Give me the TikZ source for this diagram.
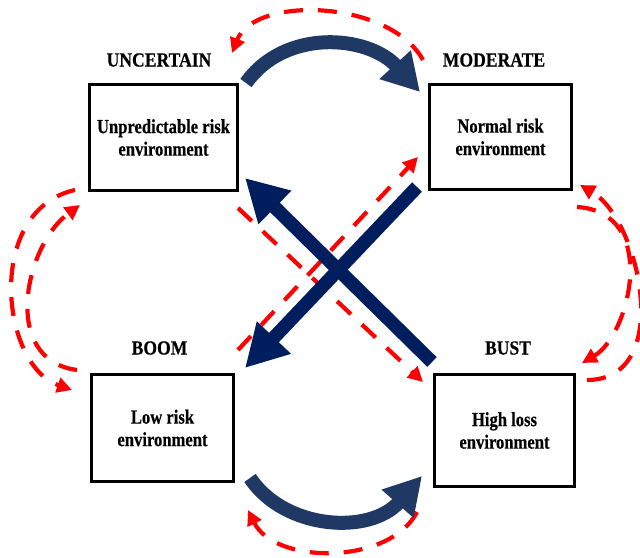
\documentclass[tikz,border=0pt]{standalone}
\usepackage{fontspec}
\newfontfamily\lblfont{Liberation Serif}[FakeStretch=0.88,FakeBold=0.4]
\newfontfamily\boxfont{Liberation Serif}[FakeStretch=0.83,FakeBold=0.4]
\usetikzlibrary{arrows.meta}
\definecolor{navyx}{RGB}{0,30,94}
\definecolor{navyc}{RGB}{31,56,100}
\definecolor{redd}{RGB}{255,0,0}
\begin{document}
\begin{tikzpicture}[x=1pt,y=-1pt,
  envbox/.style={draw=black, line width=2.8pt, inner sep=0pt, align=center,
    font=\boxfont\bfseries\fontsize{20}{22.5}\selectfont},
  phase/.style={inner sep=0pt, font=\lblfont\bfseries\fontsize{20}{22}\selectfont},
  reddash/.style={draw=redd, line width=4.2pt, dash pattern=on 19pt off 15pt,
    -{Triangle[length=15pt,width=15pt]}},
  bluecurve/.style={draw=navyc, line width=14pt, -{Triangle[length=37pt,width=40pt]}},
  bluecross/.style={draw=navyx, line width=13.5pt, -{Triangle[length=42pt,width=44pt]}}]
\useasboundingbox (0,0) rectangle (640,557);
\fill[white] (0,0) rectangle (640,557);

% boxes
\node[envbox, minimum width=148pt, minimum height=106pt] (unc) at (163.5,137.5) {Unpredictable risk\\environment};
\node[envbox, minimum width=142pt, minimum height=105pt] (mod) at (500.5,137) {Normal risk\\environment};
\node[envbox, minimum width=142pt, minimum height=107pt] (boom) at (162.5,428) {Low risk\\environment};
\node[envbox, minimum width=140pt, minimum height=112pt] (bust) at (504.5,430.5) {High loss\\environment};

% phase labels
\node[phase] (uncl) at (159,60) {UNCERTAIN};
\node[phase] (modl) at (494,60) {MODERATE};
\node[phase] (booml) at (159.5,348) {BOOM};
\node[phase] (bustl) at (508,348) {BUST};

% connector end points
\coordinate (rt1) at (423,60);   \coordinate (rt2) at (232,53);
\coordinate (rb1) at (417,512);  \coordinate (rb2) at (248,510);
\coordinate (lo1) at (75,190);   \coordinate (lo2) at (72,390);
\coordinate (li1) at (77,370);   \coordinate (li2) at (80,205);
\coordinate (ri1) at (577,207);  \coordinate (ri2) at (582,363);
\coordinate (ro1) at (587,380);  \coordinate (ro2) at (580,185);
\coordinate (d1a) at (238,208);  \coordinate (d1b) at (423,382);
\coordinate (d2a) at (238,350);  \coordinate (d2b) at (418,157);
\coordinate (bt1) at (246,83);   \coordinate (bt2) at (420,92);
\coordinate (bb1) at (250,478);  \coordinate (bb2) at (422,476);
\coordinate (xa1) at (432,362);  \coordinate (xa2) at (245,178);
\coordinate (xb1) at (417,187);  \coordinate (xb2) at (245,368);

% red dashed cycle
\draw[reddash] (rt1) .. controls (390,0) and (255,-5) .. (rt2);
\draw[reddash] (rb1) .. controls (390,565) and (275,565) .. (rb2);
\draw[reddash] (lo1) .. controls (-15,210) and (0,365) .. (lo2);
\draw[reddash] (li1) .. controls (0,360) and (25,245) .. (li2);
\draw[reddash] (ri1) .. controls (660,212) and (630,335) .. (ri2);
\draw[reddash] (ro1) .. controls (675,380) and (640,220) .. (ro2);
\draw[reddash] (d1a) -- (d1b);
\draw[reddash] (d2a) -- (d2b);

% blue arrows
\draw[bluecurve] (bt1) .. controls (285,28) and (368,35) .. (bt2);
\draw[bluecurve] (bb1) .. controls (285,530) and (370,535) .. (bb2);
\draw[bluecross] (xb1) -- (xb2);
\draw[bluecross] (xa1) -- (xa2);
\end{tikzpicture}
\end{document}
